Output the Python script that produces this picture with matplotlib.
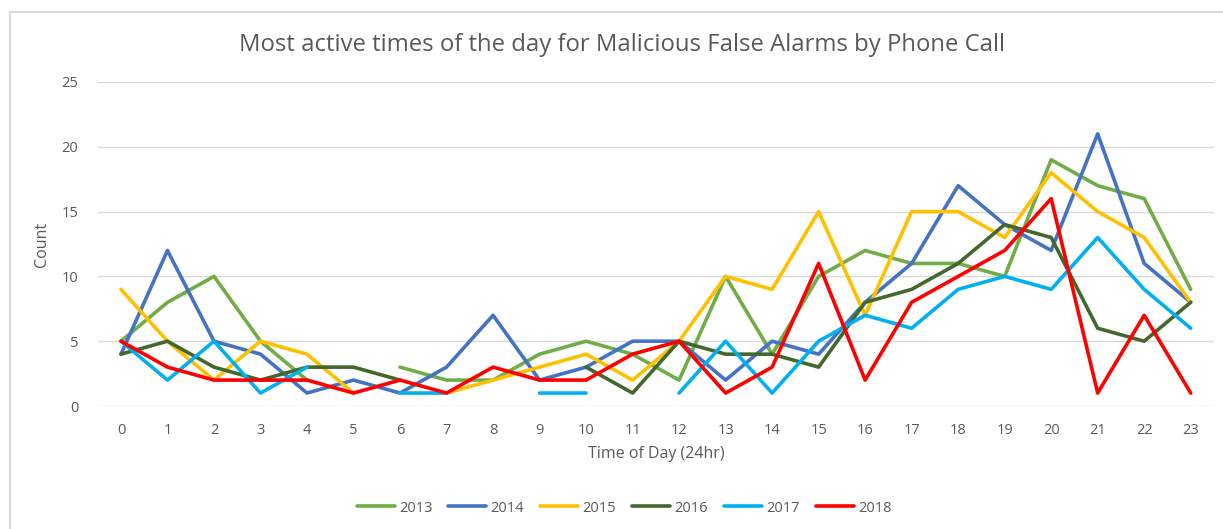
import numpy as np
import matplotlib.pyplot as plt
from matplotlib.patches import Rectangle

plt.rcParams['font.family'] = ['Open Sans', 'DejaVu Sans']

hours = list(range(24))
nan = np.nan

# counts per hour, gaps where the source series has no value
y2013 = [5, 8, 10, 5, 2, nan, 3, 2, 2, 4, 5, 4, 2, 10, 4, 10, 12, 11, 11, 10, 19, 17, 16, 9]
y2014 = [4, 12, 5, 4, 1, 2, 1, 3, 7, 2, 3, 5, 5, 2, 5, 4, 8, 11, 17, 14, 12, 21, 11, 8]
y2015 = [9, 5, 2, 5, 4, 1, nan, 1, 2, 3, 4, 2, 5, 10, 9, 15, 7, 15, 15, 13, 18, 15, 13, 8]
y2016 = [4, 5, 3, 2, 3, 3, 2, nan, nan, nan, 3, 1, 5, 4, 4, 3, 8, 9, 11, 14, 13, 6, 5, 8]
y2017 = [5, 2, 5, 1, 3, nan, 1, 1, nan, 1, 1, nan, 1, 5, 1, 5, 7, 6, 9, 10, 9, 13, 9, 6]
y2018 = [5, 3, 2, 2, 2, 1, 2, 1, 3, 2, 2, 4, 5, 1, 3, 11, 2, 8, 10, 12, 16, 1, 7, 1]

series = [("2013", y2013, "#70AD47"),
          ("2014", y2014, "#4472C4"),
          ("2015", y2015, "#FFC000"),
          ("2016", y2016, "#43682B"),
          ("2017", y2017, "#00B0F0"),
          ("2018", y2018, "#FF0000")]

grey = "#595959"
fig = plt.figure(figsize=(12.23, 5.29), dpi=100)
ax = fig.add_axes([0.0799, 0.2325, 0.9127, 0.6125])

for name, vals, col in series:
    ax.plot(hours, np.array(vals, dtype=float), color=col, lw=2.6, label=name,
            solid_joinstyle='round', solid_capstyle='round')

ax.set_xlim(-0.5, 23.5)
ax.set_ylim(0, 25)
ax.set_xticks(hours)
ax.set_yticks(range(0, 26, 5))
ax.tick_params(length=0, labelsize=10.5, labelcolor=grey)
ax.tick_params(axis='x', pad=12)
ax.tick_params(axis='y', pad=14)
ax.grid(axis='y', color="#D9D9D9", lw=1)
ax.set_axisbelow(True)
for s in ax.spines.values():
    s.set_visible(False)

ax.set_xlabel("Time of Day (24hr)", fontsize=11.5, color=grey, labelpad=6)
ax.set_ylabel("Count", fontsize=11.5, color=grey, labelpad=8)
fig.text(0.5086, 0.915, "Most active times of the day for Malicious False Alarms by Phone Call",
         ha='center', va='center', fontsize=17.2, color=grey)

ax.legend(loc='center', bbox_to_anchor=(0.4716, -0.315), ncol=6, frameon=False,
          fontsize=10.5, labelcolor=grey, handlelength=2.6, handletextpad=0.3,
          columnspacing=1.1)

fig.patches.append(Rectangle((10 / 1223, -0.01), 1.0, 1 - 12 / 529 + 0.01,
                             transform=fig.transFigure, fill=False,
                             edgecolor="#D9D9D9", lw=1.5))

fig.savefig("out.png", dpi=100)
